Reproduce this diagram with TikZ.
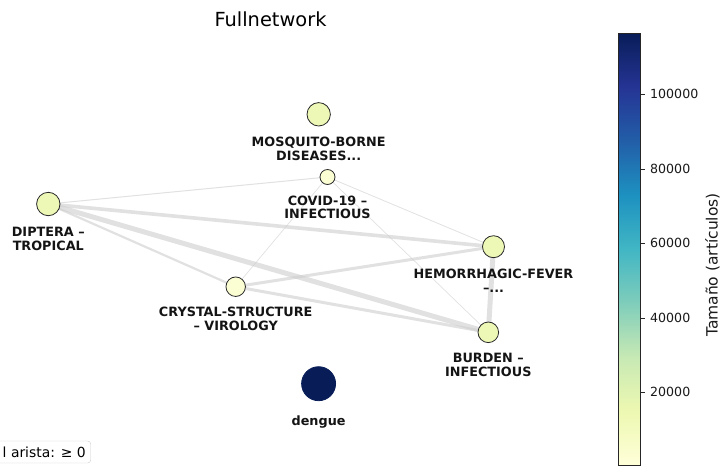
\documentclass[tikz,border=0pt]{standalone}
\usepackage{fontspec}
\setmainfont{DejaVu Sans}
\definecolor{edgec}{RGB}{205,205,205}
\definecolor{nodeA}{RGB}{238,248,182}
\definecolor{nodeB}{RGB}{251,253,210}
\definecolor{dengc}{RGB}{8,29,88}
\definecolor{outl}{RGB}{40,40,40}
\definecolor{cmA}{RGB}{255,255,217}
\definecolor{cmB}{RGB}{237,248,177}
\definecolor{cmC}{RGB}{199,233,180}
\definecolor{cmD}{RGB}{127,205,187}
\definecolor{cmE}{RGB}{65,182,196}
\definecolor{cmF}{RGB}{29,145,192}
\definecolor{cmG}{RGB}{34,94,168}
\definecolor{cmH}{RGB}{37,52,148}
\definecolor{cmI}{RGB}{8,29,88}
\pgfdeclareverticalshading{ylgnbu}{100bp}{color(0bp)=(cmA); color(25bp)=(cmA); color(31.25bp)=(cmB); color(37.5bp)=(cmC); color(43.75bp)=(cmD); color(50bp)=(cmE); color(56.25bp)=(cmF); color(62.5bp)=(cmG); color(68.75bp)=(cmH); color(75bp)=(cmI); color(100bp)=(cmI)}
\pgfdeclarelayer{bg}
\pgfsetlayers{bg,main}
\begin{document}
\begin{tikzpicture}[x=1pt,y=-1pt,
  edge/.style={draw=edgec, draw opacity=0.6},
  vert/.style={circle, draw=outl, line width=0.8pt, inner sep=0pt},
  lab/.style={font=\fontsize{12.8}{13.6}\selectfont\bfseries, align=center, text=black!92, inner sep=0pt},
  tick/.style={font=\fontsize{12.6}{14}\selectfont, anchor=west, inner sep=0pt, text=black!90},
]
\path[use as bounding box] (0,0) rectangle (721,467);
\clip (0,0) rectangle (721,467);

% title
\node[font=\fontsize{19.4}{22}\selectfont, anchor=base, inner sep=0pt] (title) at (270.5,26) {Fullnetwork};

% nodes
\node[vert, minimum size=23.4pt, fill=nodeA] (mos) at (318.7,114.3) {};
\node[vert, minimum size=15pt, fill=nodeB] (cov) at (327.5,177) {};
\node[vert, minimum size=23.4pt, fill=nodeA] (dip) at (48.3,204) {};
\node[vert, minimum size=22pt, fill=nodeA] (hem) at (493.5,246.7) {};
\node[vert, minimum size=19.5pt, fill=nodeB] (cry) at (235.7,286.7) {};
\node[vert, minimum size=20.6pt, fill=nodeA] (bur) at (488.3,332.3) {};
\node[vert, minimum size=34pt, fill=dengc, draw=dengc] (den) at (318.6,383.7) {};

% edges
\begin{pgfonlayer}{bg}
\draw[edge, line width=5pt] (dip.center) -- (bur.center);
\draw[edge, line width=3.6pt] (dip.center) -- (hem.center);
\draw[edge, line width=2.2pt] (dip.center) -- (cry.center);
\draw[edge, line width=1pt] (dip.center) -- (cov.center);
\draw[edge, line width=3pt] (cry.center) -- (hem.center);
\draw[edge, line width=3pt] (cry.center) -- (bur.center);
\draw[edge, line width=0.7pt] (cry.center) -- (cov.center);
\draw[edge, line width=0.8pt] (cov.center) -- (hem.center);
\draw[edge, line width=0.7pt] (cov.center) -- (bur.center);
\draw[edge, line width=5pt] (hem.center) -- (bur.center);
\end{pgfonlayer}

% labels
\node[lab] (lmos) at (318.7,149) {MOSQUITO-BORNE\\DISEASES...};
\node[lab] (lcov) at (327.5,207.5) {COVID-19 –\\INFECTIOUS};
\node[lab] (ldip) at (48.3,238.7) {DIPTERA –\\TROPICAL};
\node[lab] (lhem) at (493.5,281) {HEMORRHAGIC-FEVER\\–...};
\node[lab] (lcry) at (235.7,319) {CRYSTAL-STRUCTURE\\– VIROLOGY};
\node[lab] (lbur) at (488.3,365) {BURDEN –\\INFECTIOUS};
\node[lab] (lden) at (318.6,421.7) {dengue};

% legend
\draw[rounded corners=3pt, draw=black!20, fill=white, fill opacity=0.8] (-10,441) rectangle (90.7,463);
\node[font=\fontsize{13.9}{16}\selectfont, anchor=east, inner sep=0pt] (leg) at (86,452.3) {l arista: ≥ 0};

% colorbar
\shade[shading=ylgnbu] (618.3,33) rectangle (640,465);
\draw[line width=0.8pt, draw=black!85] (618.3,33) rectangle (640,465);
\foreach \v/\yy in {100000/94,80000/169,60000/243,40000/318,20000/392}{
  \draw[line width=0.8pt, draw=black!85] (640,\yy) -- (644.9,\yy);
  \node[tick] (t\v) at (650,\yy) {\v};
}
\node[rotate=90, font=\fontsize{15.5}{18}\selectfont, inner sep=0pt, text=black!90] (cblab) at (712.5,265) {Tamaño (artículos)};
\end{tikzpicture}
\end{document}
